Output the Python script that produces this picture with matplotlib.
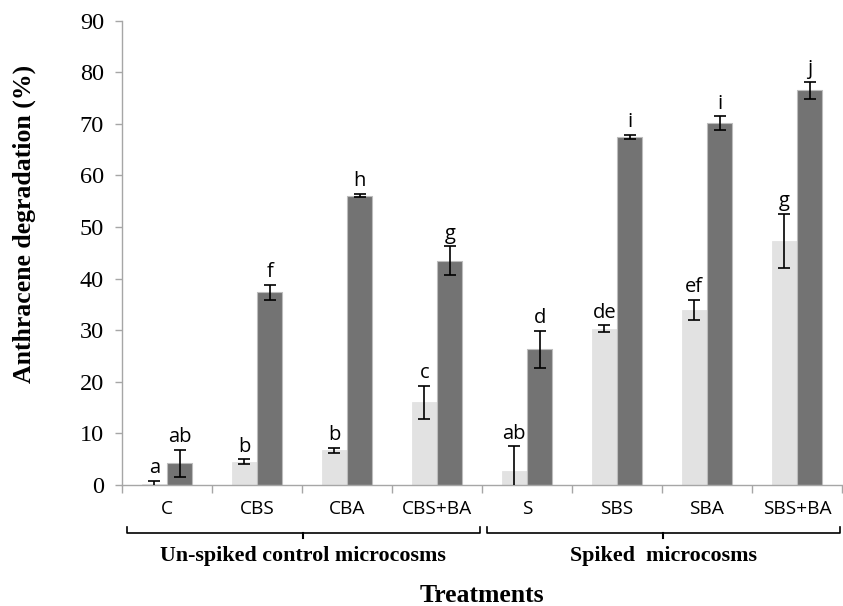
"""
    Anthracene degradation per treatment, un-spiked vs spiked microcosms
"""

import numpy as np
from matplotlib import pyplot as plt
from matplotlib import transforms

# Data
treatments = ["C", "CBS", "CBA", "CBS+BA", "S", "SBS", "SBA", "SBS+BA"]

light_vals = [0.25, 4.5, 6.7, 16.0, 2.8, 30.3, 34.0, 47.3]
light_err = [0.6, 0.45, 0.45, 3.15, 4.7, 0.65, 1.95, 5.2]
light_letters = ["a", "b", "b", "c", "ab", "de", "ef", "g"]

dark_vals = [4.2, 37.35, 56.1, 43.5, 26.3, 67.5, 70.1, 76.5]
dark_err = [2.65, 1.45, 0.3, 2.75, 3.6, 0.4, 1.35, 1.6]
dark_letters = ["ab", "f", "h", "g", "d", "i", "i", "j"]

groups = ["Un-spiked control microcosms", "Spiked  microcosms"]
group_span = [(0, 3), (4, 7)]

y_ticks = list(range(0, 91, 10))

SERIF = "Liberation Serif"
SANS = "Open Sans"

fig = plt.figure(figsize=(8.43, 6.06), dpi=100)
ax = fig.add_axes([122 / 843, 121 / 606, 720 / 843, 464.3 / 606])

x = np.arange(len(treatments))
w = 0.283

ax.bar(x - w / 2, light_vals, w, color="#e2e2e2", edgecolor="#e2e2e2", linewidth=0.6, zorder=2)
ax.bar(x + w / 2, dark_vals, w, color="#737373", edgecolor="#bdbdbd", linewidth=0.8, zorder=2)

ax.errorbar(x - w / 2, light_vals, yerr=light_err, fmt="none", ecolor="black",
            elinewidth=1.2, capsize=4, capthick=1.2, zorder=3)
ax.errorbar(x + w / 2, dark_vals, yerr=dark_err, fmt="none", ecolor="black",
            elinewidth=1.2, capsize=4, capthick=1.2, zorder=3)

# significance letters
for xi, v, e, t in zip(x - w / 2, light_vals, light_err, light_letters):
    ax.annotate(t, (xi, v + e), xytext=(0, 2), textcoords="offset points",
                ha="center", va="bottom", fontsize=14.5, family=SANS)
for xi, v, e, t in zip(x + w / 2, dark_vals, dark_err, dark_letters):
    ax.annotate(t, (xi, v + e), xytext=(0, 2), textcoords="offset points",
                ha="center", va="bottom", fontsize=14.5, family=SANS)

ax.set_xlim(-0.5, len(treatments) - 0.5)
ax.set_ylim(0, 90)
ax.set_yticks(y_ticks)
ax.set_yticklabels([str(t) for t in y_ticks], family=SERIF, fontsize=17.5)

ax.set_xticks(x)
ax.set_xticklabels(treatments, family=SANS, fontsize=13.8)
ax.set_xticks(np.arange(-0.5, len(treatments)), minor=True)
ax.tick_params(axis="x", which="major", length=0, pad=11)
ax.tick_params(axis="x", which="minor", length=6, color="#a6a6a6", width=1)
ax.tick_params(axis="y", length=5, color="#a6a6a6", width=1, pad=8)

for s in ["top", "right"]:
    ax.spines[s].set_visible(False)
for s in ["left", "bottom"]:
    ax.spines[s].set_color("#a6a6a6")
    ax.spines[s].set_linewidth(1)

# group brackets below the category labels
trans = transforms.blended_transform_factory(ax.transData, ax.transAxes)
yb, yh, yc = -0.103, -0.091, -0.115
for name, (i0, i1) in zip(groups, group_span):
    x0, x1 = i0 - 0.45, i1 + 0.48
    xm = (x0 + x1) / 2
    ax.plot([x0, x0, x1, x1], [yh, yb, yb, yh], color="black", lw=1.2,
            transform=trans, clip_on=False)
    ax.plot([xm, xm], [yb, yc], color="black", lw=1.5, transform=trans, clip_on=False)
    ax.text(xm, -0.153, name, transform=trans, ha="center", va="center",
            family=SERIF, fontweight="bold", fontsize=15.8)

ax.text(0.5, -0.238, "Treatments", transform=ax.transAxes, ha="center", va="center",
        family=SERIF, fontweight="bold", fontsize=18.5)
ax.text(-0.136, 0.562, "Anthracene degradation (%)", transform=ax.transAxes,
        ha="center", va="center", rotation=90, family=SERIF, fontweight="bold", fontsize=18.5)

fig.savefig("out.png", dpi=100)
